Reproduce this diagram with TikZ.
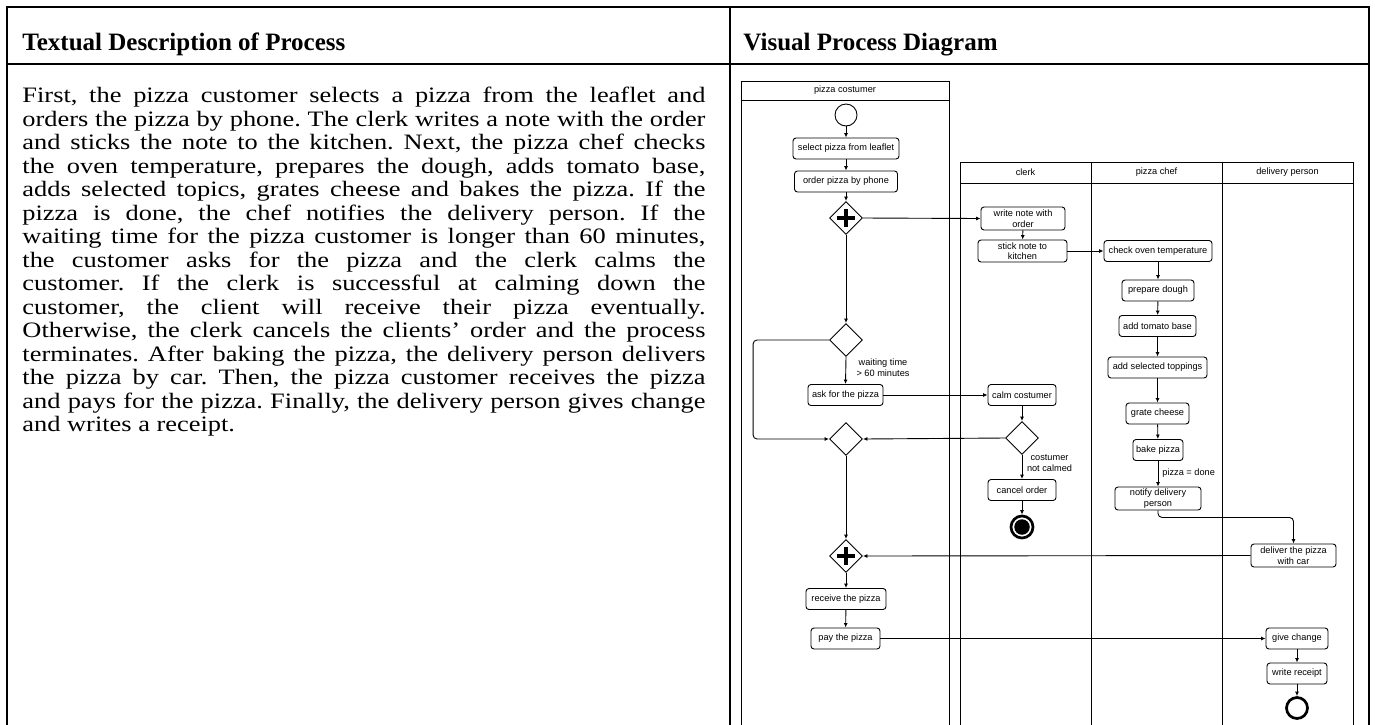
\documentclass[tikz,border=0pt]{standalone}
\usepackage{fontspec}
\setmainfont{Liberation Serif}
\newfontfamily\lanefont{Liberation Sans}
\newfontfamily\descfamily[FakeStretch=1.2,Ligatures=TeX]{Liberation Serif}
\usetikzlibrary{shapes.geometric,arrows.meta}

\newcommand\descfont{\descfamily\fontsize{22}{23.5}\selectfont\lineskiplimit=-100pt\relax\frenchspacing}

\tikzset{
	task/.style={draw, rounded corners=3pt, align=center, inner sep=1pt, minimum height=21pt, font=\lanefont\fontsize{9.2}{10.5}\selectfont},
	gate/.style={draw, diamond, aspect=1, inner sep=0pt, minimum size=33pt},
	flow/.style={-{Latex[length=4.5pt,width=4pt]}, rounded corners=4pt},
	guard/.style={inner sep=0pt, align=center, font=\lanefont\fontsize{9.2}{11}\selectfont},
	lanehead/.style={inner sep=0pt, font=\lanefont\fontsize{9.2}{11}\selectfont},
	colhead/.style={anchor=base west, inner sep=0pt, font=\bfseries\fontsize{25}{28}\selectfont},
	plusbar/.style={line width=3.3pt}
}

\begin{document}
\begin{tikzpicture}[x=1pt, y=-1pt, line width=0.9pt]
	\useasboundingbox (0,0) rectangle (1375,724);

	% table frame
	\draw[line width=2pt] (7,726) -- (7,7) -- (1369,7) -- (1369,726);
	\draw[line width=2pt] (7,64) -- (1369,64);
	\draw[line width=2pt] (730,7) -- (730,726);

	\node[colhead] (texthead) at (22,50) {Textual Description of Process};
	\node[colhead] (diaghead) at (743,50) {Visual Process Diagram};

	\node[anchor=north west, inner sep=0pt, text width=683pt, align=justify, font=\descfont] (desc) at (22,87) {First, the pizza customer selects a pizza from the leaflet and\linebreak
	orders the pizza by phone. The clerk writes a note with the order\linebreak
	and sticks the note to the kitchen. Next, the pizza chef checks\linebreak
	the oven temperature, prepares the dough, adds tomato base,\linebreak
	adds selected topics, grates cheese and bakes the pizza. If the\linebreak
	pizza is done, the chef notifies the delivery person. If the\linebreak
	waiting time for the pizza customer is longer than 60 minutes,\linebreak
	the customer asks for the pizza and the clerk calms the\linebreak
	customer. If the clerk is successful at calming down the\linebreak
	customer, the client will receive their pizza eventually.\linebreak
	Otherwise, the clerk cancels the clients' order and the process\linebreak
	terminates. After baking the pizza, the delivery person delivers\linebreak
	the pizza by car. Then, the pizza customer receives the pizza\linebreak
	and pays for the pizza. Finally, the delivery person gives change\linebreak
	and writes a receipt.};

	% pools and lanes
	\draw (741,726) -- (741,81) -- (949,81) -- (949,726);
	\draw (741,100) -- (949,100);
	\node[lanehead] (costumer) at (845,90.5) {pizza costumer};

	\draw (960,726) -- (960,162) -- (1353,162) -- (1353,726);
	\draw (960,183) -- (1353,183);
	\draw (1091,162) -- (1091,726);
	\draw (1222,162) -- (1222,726);
	\node[lanehead] (clerk) at (1025.5,172.5) {clerk};
	\node[lanehead] (chef) at (1156.5,172.5) {pizza chef};
	\node[lanehead] (delivery) at (1287.5,172.5) {delivery person};

	% events
	\node[draw, circle, minimum size=22pt, inner sep=0pt] (start) at (846,115) {};
	\node[draw, circle, line width=2.7pt, minimum size=22pt, inner sep=0pt] (kill) at (1022,527) {};
	\node[fill, circle, minimum size=15.5pt, inner sep=0pt] (killdot) at (1022,527) {};
	\node[draw, circle, line width=2.7pt, minimum size=21pt, inner sep=0pt] (stop) at (1297,708) {};

	% pizza costumer
	\node[task, minimum width=106pt] (select) at (846,148.5) {select pizza from leaflet};
	\node[task, minimum width=103pt] (order) at (846,181.5) {order pizza by phone};
	\node[gate] (fork) at (846,218) {};
	\node[gate] (wait) at (846,340) {};
	\node[task, minimum width=75pt] (ask) at (845.5,395) {ask for the pizza};
	\node[gate] (merge) at (846,439) {};
	\node[gate] (join) at (846,556) {};
	\node[task, minimum width=80pt] (receive) at (846,599) {receive the pizza};
	\node[task, minimum width=69pt] (pay) at (845.5,638.5) {pay the pizza};

	\draw[plusbar] ([xshift=-9pt]fork.center) -- ([xshift=9pt]fork.center);
	\draw[plusbar] ([yshift=-9pt]fork.center) -- ([yshift=9pt]fork.center);
	\draw[plusbar] ([xshift=-9pt]join.center) -- ([xshift=9pt]join.center);
	\draw[plusbar] ([yshift=-9pt]join.center) -- ([yshift=9pt]join.center);

	% clerk
	\node[task, minimum width=84pt, minimum height=23pt] (note) at (1023,218.5) {write note with\\order};
	\node[task, minimum width=89pt, minimum height=22pt] (stick) at (1022.5,251) {stick note to\\kitchen};
	\node[task, minimum width=68pt] (calm) at (1022,395) {calm costumer};
	\node[gate] (calmed) at (1022,438) {};
	\node[task, minimum width=68pt] (cancel) at (1022,490) {cancel order};

	% pizza chef
	\node[task, minimum width=108pt] (oven) at (1158,251) {check oven temperature};
	\node[task, minimum width=72pt] (dough) at (1158,290.5) {prepare dough};
	\node[task, minimum width=77pt] (tomato) at (1157.5,326) {add tomato base};
	\node[task, minimum width=99pt] (toppings) at (1157.5,367.5) {add selected toppings};
	\node[task, minimum width=63pt] (cheese) at (1157.5,413.5) {grate cheese};
	\node[task, minimum width=50pt] (bake) at (1158,450) {bake pizza};
	\node[task, minimum width=86pt, minimum height=23pt] (notify) at (1158,498.5) {notify delivery\\person};

	% delivery person
	\node[task, minimum width=85pt, minimum height=23pt] (deliver) at (1293.5,555.5) {deliver the pizza\\with car};
	\node[task, minimum width=62pt] (change) at (1297,638.5) {give change};
	\node[task, minimum width=60pt] (receipt) at (1297,673.5) {write receipt};

	% sequence flows
	\draw[flow] (start) -- (select);
	\draw[flow] (select) -- (order);
	\draw[flow] (order) -- (fork);
	\draw[flow] (fork.east) -- (note.west);
	\draw[flow] (fork.south) -- (wait.north);
	\draw[flow] (note) -- (stick);
	\draw[flow] (stick.east) -- (oven.west);
	\draw[flow] (oven) -- (dough);
	\draw[flow] (dough) -- (tomato);
	\draw[flow] (tomato) -- (toppings);
	\draw[flow] (toppings) -- (cheese);
	\draw[flow] (cheese) -- (bake);
	\draw[flow] (bake) -- (notify);
	\node[guard, anchor=west] (done) at (1162,473) {pizza = done};
	\draw[flow] (notify.south) -- ++(0,7) -| (deliver.north);
	\draw[flow] (deliver.west) -- (join.east);

	\draw[flow] (wait.south) -- (ask.north);
	\node[guard] (waiting) at (883,367.5) {waiting time\\> 60 minutes};
	\draw[flow] (wait.west) -- ++(-76,0) |- (merge.west);
	\draw[flow] (ask.east) -- (calm.west);
	\draw[flow] (calm.south) -- (calmed.north);
	\draw[flow] (calmed.west) -- (merge.east);
	\draw[flow] (calmed.south) -- (cancel.north);
	\node[guard] (notcalmed) at (1049.5,463.5) {costumer\\not calmed};
	\draw[flow] (cancel.south) -- (kill.north);

	\draw[flow] (merge.south) -- (join.north);
	\draw[flow] (join.south) -- (receive.north);
	\draw[flow] (receive) -- (pay);
	\draw[flow] (pay.east) -- (change.west);
	\draw[flow] (change) -- (receipt);
	\draw[flow] (receipt) -- (stop.north);
\end{tikzpicture}
\end{document}
